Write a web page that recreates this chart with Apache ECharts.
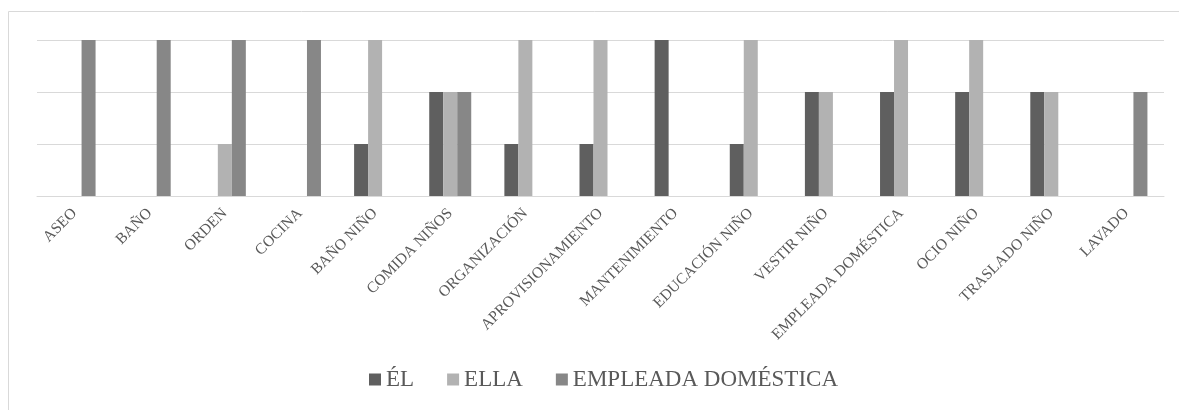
<!DOCTYPE html>
<html>
<head>
<meta charset="utf-8">
<script src="https://cdn.jsdelivr.net/npm/echarts@6/dist/echarts.min.js"></script>
<style>
  body { margin: 0; background: #fff; }
  #chart { width: 1179px; height: 410px; }
</style>
</head>
<body>
<div id="chart"></div>
<script>
// categorias (tareas)
var tareas = ['ASEO', 'BAÑO', 'ORDEN', 'COCINA', 'BAÑO NIÑO', 'COMIDA NIÑOS', 'ORGANIZACIÓN',
  'APROVISIONAMIENTO', 'MANTENIMIENTO', 'EDUCACIÓN NIÑO', 'VESTIR NIÑO', 'EMPLEADA DOMÉSTICA',
  'OCIO NIÑO', 'TRASLADO NIÑO', 'LAVADO'];
var el = [0, 0, 0, 0, 1, 2, 1, 1, 3, 1, 2, 2, 2, 2, 0];
var ella = [0, 0, 1, 0, 3, 2, 3, 3, 0, 3, 2, 3, 3, 2, 0];
var empleada = [3, 3, 3, 3, 0, 2, 0, 0, 0, 0, 0, 0, 0, 0, 2];

var chartDom = document.getElementById('chart');
var myChart = echarts.init(chartDom);

var fuente = '"Liberation Serif", "DejaVu Serif", serif';

var option = {
  animation: false,
  graphic: [{
    type: 'rect',
    shape: { x: 8.5, y: 11.5, width: 1300, height: 600 },
    style: { fill: 'none', stroke: '#d9d9d9', lineWidth: 1 }
  }],
  grid: { left: 37, right: 15, top: 40, height: 156 },
  legend: {
    bottom: 14,
    left: 364,
    itemWidth: 12,
    itemHeight: 12,
    itemGap: 33,
    icon: 'rect',
    textStyle: { fontFamily: fuente, fontSize: 23, color: '#595959' },
    data: ['ÉL', 'ELLA', 'EMPLEADA DOMÉSTICA']
  },
  xAxis: {
    type: 'category',
    data: tareas,
    axisLine: { lineStyle: { color: '#d9d9d9' } },
    axisTick: { show: false },
    axisLabel: {
      rotate: 45,
      interval: 0,
      margin: 15,
      fontFamily: fuente,
      fontSize: 15.5,
      color: '#595959'
    }
  },
  yAxis: {
    type: 'value',
    min: 0,
    max: 3,
    interval: 1,
    axisLabel: { show: false },
    axisLine: { show: false },
    axisTick: { show: false },
    splitLine: { lineStyle: { color: '#d9d9d9' } }
  },
  series: [
    { name: 'ÉL', type: 'bar', data: el, barWidth: 14, barGap: '0%', itemStyle: { color: '#5f5f5f' } },
    { name: 'ELLA', type: 'bar', data: ella, barWidth: 14, barGap: '0%', itemStyle: { color: '#b2b2b2' } },
    { name: 'EMPLEADA DOMÉSTICA', type: 'bar', data: empleada, barWidth: 14, barGap: '0%', itemStyle: { color: '#878787' } }
  ]
};

option && myChart.setOption(option);
</script>
</body>
</html>
